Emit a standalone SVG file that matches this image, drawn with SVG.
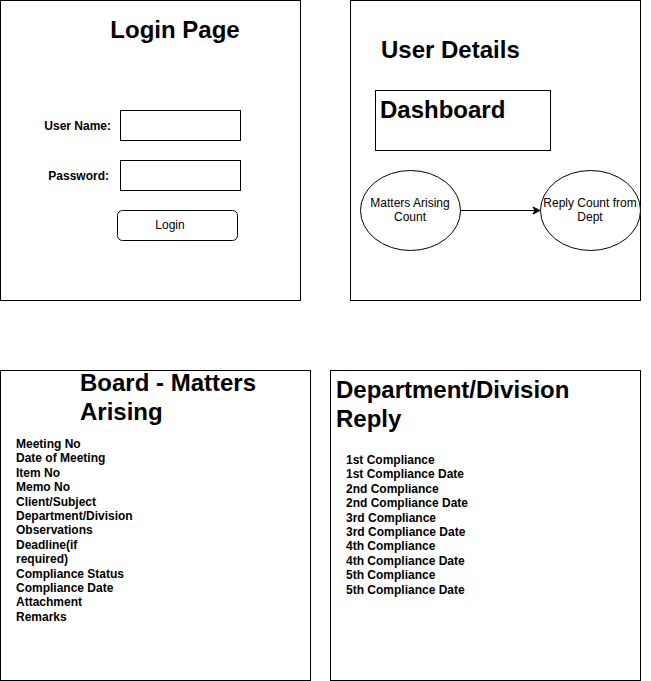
<svg xmlns="http://www.w3.org/2000/svg" width="651" height="681" viewBox="0 0 651 681">
<style>
.box{fill:#fff;stroke:#000;stroke-width:1}
.h{font-family:"Liberation Sans",Arial,sans-serif;font-size:24px;font-weight:bold;fill:#000}
.b{font-family:"Liberation Sans",Arial,sans-serif;font-size:12px;font-weight:bold;fill:#000}
.t{font-family:"Liberation Sans",Arial,sans-serif;font-size:12px;fill:#000}
</style>
<defs>
<marker id="arr" markerWidth="10" markerHeight="10" refX="8" refY="5" orient="auto" markerUnits="userSpaceOnUse">
<path d="M1,1.5 L8,5 L1,8.5 L3,5 Z" fill="#000" stroke="#000"/>
</marker>
</defs>
<rect width="651" height="681" fill="#fff"/>
<g id="login-page">
<rect class="box" x="0.5" y="0.5" width="300" height="300"/>
<text class="h" x="175" y="38" text-anchor="middle">Login Page</text>
<text class="b" x="111" y="130" text-anchor="end">User Name:</text>
<rect class="box" x="120.5" y="110.5" width="120" height="30"/>
<text class="b" x="109" y="180" text-anchor="end">Password:</text>
<rect class="box" x="120.5" y="160.5" width="120" height="30"/>
<rect class="box" x="117.5" y="210.5" width="120" height="30" rx="5"/>
<text class="t" x="170" y="229" text-anchor="middle">Login</text>
</g>
<g id="user-details">
<rect class="box" x="350.5" y="0.5" width="290" height="300"/>
<text class="h" x="381" y="58">User Details</text>
</g>
<g id="dashboard">
<rect class="box" x="375.5" y="90.5" width="175" height="60"/>
<text class="h" x="380" y="118">Dashboard</text>
</g>
<g id="matters-arising-count">
<ellipse class="box" cx="410.5" cy="210.5" rx="50" ry="40"/>
<text class="t" x="410" y="207" text-anchor="middle">Matters Arising</text>
<text class="t" x="410" y="221" text-anchor="middle">Count</text>
</g>
<g id="reply-count">
<ellipse class="box" cx="590.5" cy="210.5" rx="50" ry="40"/>
<text class="t" x="590" y="207" text-anchor="middle">Reply Count from</text>
<text class="t" x="590" y="221" text-anchor="middle">Dept</text>
</g>
<g id="connectors">
<line x1="460.5" y1="210.5" x2="540" y2="210.5" stroke="#000" stroke-width="1" marker-end="url(#arr)"/>
</g>
<g id="board-matters-arising">
<rect class="box" x="0.5" y="370.5" width="310" height="310"/>
<text class="h" x="80" y="391">Board - Matters</text>
<text class="h" x="80" y="420">Arising</text>
<text class="b" x="16" y="448">
<tspan x="16" dy="0">Meeting No</tspan>
<tspan x="16" dy="14.4">Date of Meeting</tspan>
<tspan x="16" dy="14.4">Item No</tspan>
<tspan x="16" dy="14.4">Memo No</tspan>
<tspan x="16" dy="14.4">Client/Subject</tspan>
<tspan x="16" dy="14.4">Department/Division</tspan>
<tspan x="16" dy="14.4">Observations</tspan>
<tspan x="16" dy="14.4">Deadline(if</tspan>
<tspan x="16" dy="14.4">required)</tspan>
<tspan x="16" dy="14.4">Compliance Status</tspan>
<tspan x="16" dy="14.4">Compliance Date</tspan>
<tspan x="16" dy="14.4">Attachment</tspan>
<tspan x="16" dy="14.4">Remarks</tspan>
</text>
</g>
<g id="department-division-reply">
<rect class="box" x="330.5" y="370.5" width="310" height="310"/>
<text class="h" x="336" y="398">Department/Division</text>
<text class="h" x="336" y="427">Reply</text>
<text class="b" x="346" y="464">
<tspan x="346" dy="0">1st Compliance</tspan>
<tspan x="346" dy="14.4">1st Compliance Date</tspan>
<tspan x="346" dy="14.4">2nd Compliance</tspan>
<tspan x="346" dy="14.4">2nd Compliance Date</tspan>
<tspan x="346" dy="14.4">3rd Compliance</tspan>
<tspan x="346" dy="14.4">3rd Compliance Date</tspan>
<tspan x="346" dy="14.4">4th Compliance</tspan>
<tspan x="346" dy="14.4">4th Compliance Date</tspan>
<tspan x="346" dy="14.4">5th Compliance</tspan>
<tspan x="346" dy="14.4">5th Compliance Date</tspan>
</text>
</g>
</svg>
